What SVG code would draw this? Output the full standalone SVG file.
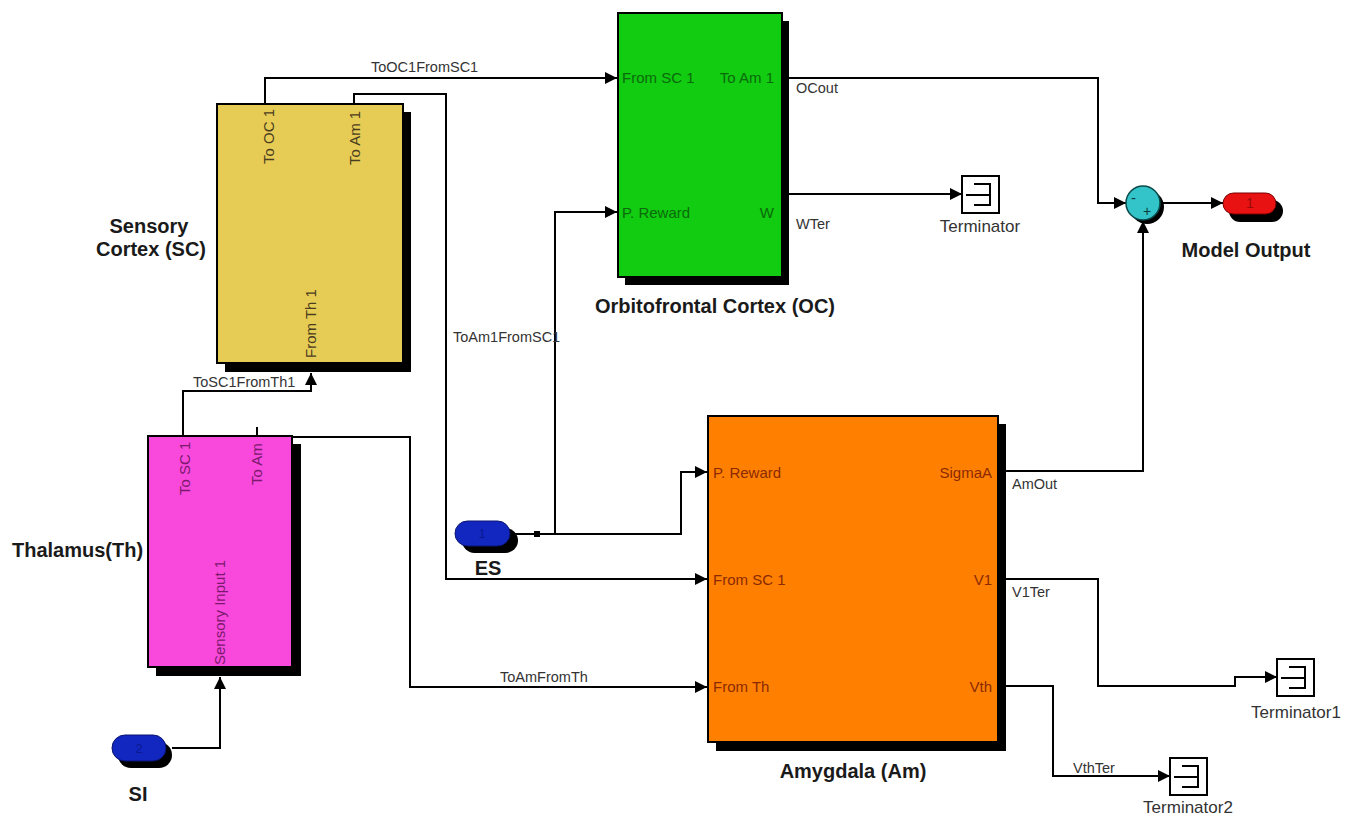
<svg xmlns="http://www.w3.org/2000/svg" width="1346" height="817" viewBox="0 0 1346 817">
<defs>
<style>
.w{fill:none;stroke:#000;stroke-width:2;}
.wa{fill:none;stroke:#000;stroke-width:2;marker-end:url(#ah);}
.blk{stroke:#000;stroke-width:2;}
.sh{fill:#000;}
.port{font-family:"Liberation Sans",Arial,sans-serif;font-size:15px;}
.wl{font-family:"Liberation Sans",Arial,sans-serif;font-size:14.5px;fill:#333;}
.tl{font-family:"Liberation Sans",Arial,sans-serif;font-size:17px;fill:#333;text-anchor:middle;}
.bl{font-family:"Liberation Sans",Arial,sans-serif;font-size:20px;font-weight:bold;fill:#1a1a1a;}
.term{fill:#fff;stroke:#000;stroke-width:2;}
.tsym{fill:none;stroke:#000;stroke-width:2;}
</style>
<marker id="ah" markerUnits="userSpaceOnUse" markerWidth="14" markerHeight="12" refX="12" refY="6" orient="auto">
<path d="M0,0 L12,6 L0,12 z" fill="#000"/>
</marker>
</defs>
<rect width="1346" height="817" fill="#fff"/>

<g id="connectors">
<path class="wa" d="M265,104 V78 H617"/>
<path class="wa" d="M354,104 V94 H446 V579 H707"/>
<path class="wa" d="M183,436 V391 H311 V373"/>
<path class="w" d="M257,436 V427"/>
<path class="wa" d="M293,437 H410 V687 H707"/>
<path class="wa" d="M172,748 H220 V677"/>
<path class="wa" d="M515,534 H681 V472 H707"/>
<path class="wa" d="M555,534 V212 H617"/>
<rect x="534" y="531" width="6" height="6" fill="#000"/>
<path class="wa" d="M789,78 H1098 V203 H1126"/>
<path class="wa" d="M789,194 H962"/>
<path class="wa" d="M1006,471 H1143 V221"/>
<path class="wa" d="M1160,203 H1223"/>
<path class="wa" d="M1006,579 H1098 V686 H1235 V677 H1277"/>
<path class="wa" d="M1006,686 H1053 V776 H1170"/>
<text class="wl" x="371" y="72">ToOC1FromSC1</text>
<text class="wl" x="453" y="342">ToAm1FromSC1</text>
<text class="wl" x="193" y="387">ToSC1FromTh1</text>
<text class="wl" x="500" y="682">ToAmFromTh</text>
<text class="wl" x="796" y="93">OCout</text>
<text class="wl" x="796" y="229">WTer</text>
<text class="wl" x="1012" y="489">AmOut</text>
<text class="wl" x="1012" y="597">V1Ter</text>
<text class="wl" x="1073" y="773">VthTer</text>
</g>

<g id="sensory-cortex">
<rect class="sh" x="225" y="112" width="186" height="260"/>
<rect class="blk" x="217" y="104" width="186" height="259" fill="#e6cc55"/>
<g class="port" fill="#4a3c1e">
<text transform="translate(274,164) rotate(-90)">To OC 1</text>
<text transform="translate(360,165) rotate(-90)">To Am 1</text>
<text transform="translate(316,358) rotate(-90)">From Th 1</text>
</g>
<text class="bl" x="149" y="233" text-anchor="middle">Sensory</text>
<text class="bl" x="151" y="256" text-anchor="middle">Cortex (SC)</text>
</g>

<g id="thalamus">
<rect class="sh" x="156" y="444" width="145" height="232"/>
<rect class="blk" x="148" y="436" width="144" height="231" fill="#f949dc"/>
<g class="port" fill="#7a1a6c">
<text transform="translate(190,495) rotate(-90)">To SC 1</text>
<text transform="translate(262,485) rotate(-90)">To Am</text>
<text transform="translate(225,665) rotate(-90)">Sensory Input 1</text>
</g>
<text class="bl" x="12" y="557">Thalamus(Th)</text>
</g>

<g id="orbitofrontal-cortex">
<rect class="sh" x="625" y="21" width="164" height="264"/>
<rect class="blk" x="618" y="13" width="164" height="264" fill="#11cc11"/>
<g class="port" fill="#0b6a0b">
<text x="622" y="83">From SC 1</text>
<text x="774" y="83" text-anchor="end">To Am 1</text>
<text x="622" y="218">P. Reward</text>
<text x="774" y="218" text-anchor="end">W</text>
</g>
<text class="bl" x="715" y="313" text-anchor="middle">Orbitofrontal Cortex (OC)</text>
</g>

<g id="amygdala">
<rect class="sh" x="716" y="424" width="290" height="327"/>
<rect class="blk" x="708" y="416" width="290" height="326" fill="#ff8000"/>
<g class="port" fill="#8a2a05">
<text x="713" y="478">P. Reward</text>
<text x="713" y="585">From SC 1</text>
<text x="713" y="692">From Th</text>
<text x="992" y="478" text-anchor="end">SigmaA</text>
<text x="992" y="585" text-anchor="end">V1</text>
<text x="992" y="692" text-anchor="end">Vth</text>
</g>
<text class="bl" x="853" y="778" text-anchor="middle">Amygdala (Am)</text>
</g>

<g id="si">
<rect x="118" y="742" width="54" height="26" rx="13" fill="#000"/>
<rect x="112" y="735" width="54" height="26" rx="13" fill="#1226c0" stroke="#0a1470" stroke-width="1"/>
<text x="139" y="753" font-family="Liberation Sans,Arial,sans-serif" font-size="13" fill="#0a1a90" text-anchor="middle">2</text>
<text class="bl" x="138" y="801" text-anchor="middle">SI</text>
</g>

<g id="es">
<rect x="462" y="528" width="56" height="25" rx="12.5" fill="#000"/>
<rect x="455" y="521" width="55" height="25" rx="12.5" fill="#1226c0" stroke="#0a1470" stroke-width="1"/>
<text x="482" y="538" font-family="Liberation Sans,Arial,sans-serif" font-size="13" fill="#0a1a90" text-anchor="middle">1</text>
<text class="bl" x="488" y="575" text-anchor="middle">ES</text>
</g>

<g id="terminator">
<rect class="term" x="962" y="176" width="37" height="37"/>
<path class="tsym" d="M966,195 H990 M974,184 H990 V205 H974"/>
<text class="tl" x="980" y="232">Terminator</text>
</g>

<g id="terminator1">
<rect class="term" x="1277" y="659" width="37" height="37"/>
<path class="tsym" d="M1281,678 H1305 M1289,667 H1305 V688 H1289"/>
<text class="tl" x="1296" y="718">Terminator1</text>
</g>

<g id="terminator2">
<rect class="term" x="1170" y="758" width="37" height="37"/>
<path class="tsym" d="M1174,777 H1198 M1182,766 H1198 V787 H1182"/>
<text class="tl" x="1188" y="813">Terminator2</text>
</g>

<g id="sum">
<circle cx="1147" cy="207" r="17" fill="#000"/>
<circle cx="1143" cy="203" r="17" fill="#33c4c9" stroke="#0a4a4a" stroke-width="1.5"/>
<text x="1131" y="203" font-family="Liberation Sans,Arial,sans-serif" font-size="15" fill="#0a3a3a">-</text>
<text x="1143" y="216" font-family="Liberation Sans,Arial,sans-serif" font-size="14" fill="#0a3a3a">+</text>
</g>

<g id="model-output">
<rect x="1229" y="200" width="54" height="22" rx="11" fill="#000"/>
<rect x="1223" y="193" width="53" height="21" rx="10.5" fill="#e81212" stroke="#7a0000" stroke-width="1"/>
<text x="1250" y="208" font-family="Liberation Sans,Arial,sans-serif" font-size="14" fill="#9a0a0a" text-anchor="middle">1</text>
<text class="bl" x="1246" y="257" text-anchor="middle">Model Output</text>
</g>
</svg>
